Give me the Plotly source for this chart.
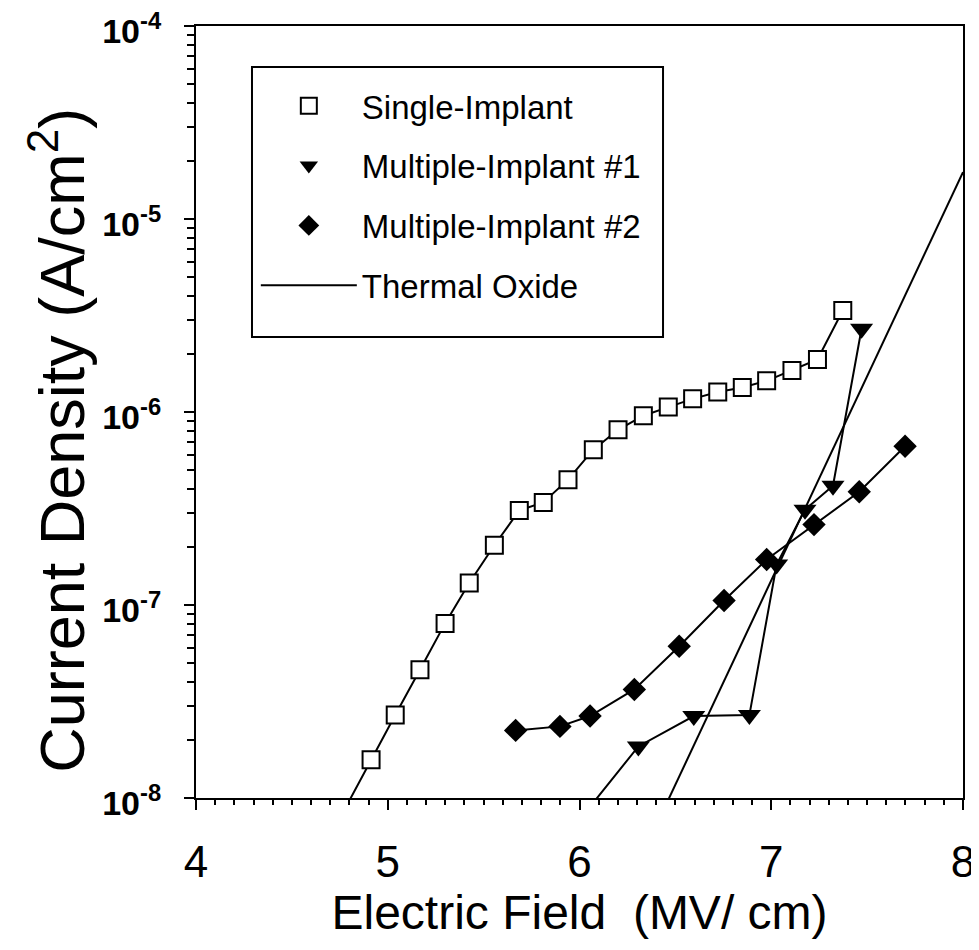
import plotly.graph_objects as go

# ---- data ----
single_x = [4.777, 4.913, 5.039, 5.168, 5.299, 5.425, 5.556, 5.686, 5.811, 5.940, 6.072,
            6.201, 6.333, 6.463, 6.590, 6.721, 6.849, 6.976, 7.108, 7.241, 7.373]
single_y = [8.8e-9, 1.58e-8, 2.69e-8, 4.62e-8, 8.03e-8, 1.30e-7, 2.04e-7, 3.09e-7, 3.40e-7,
            4.46e-7, 6.38e-7, 8.09e-7, 9.57e-7, 1.06e-6, 1.17e-6, 1.27e-6, 1.34e-6, 1.45e-6,
            1.64e-6, 1.87e-6, 3.36e-6]

mult1_x = [6.000, 6.307, 6.596, 6.886, 7.028, 7.176, 7.322, 7.471]
mult1_y = [7.7e-9, 1.85e-8, 2.66e-8, 2.69e-8, 1.62e-7, 3.12e-7, 4.15e-7, 2.70e-6]

mult2_x = [5.667, 5.898, 6.055, 6.286, 6.520, 6.754, 6.976, 7.223, 7.459, 7.698]
mult2_y = [2.24e-8, 2.35e-8, 2.66e-8, 3.65e-8, 6.11e-8, 1.055e-7, 1.72e-7, 2.61e-7,
           3.86e-7, 6.64e-7]

thermal_x = [6.40, 8.00]
thermal_y = [7.2e-9, 1.75e-5]

names = ["Single-Implant", "Multiple-Implant #1", "Multiple-Implant #2", "Thermal Oxide"]

y_tickvals = [1e-8, 1e-7, 1e-6, 1e-5, 1e-4]
y_ticktext = ["<b>10<sup>-8</sup></b>", "<b>10<sup>-7</sup></b>", "<b>10<sup>-6</sup></b>",
              "<b>10<sup>-5</sup></b>", "<b>10<sup>-4</sup></b>"]
y_minor = [k * d for d in [1e-8, 1e-7, 1e-6, 1e-5] for k in range(2, 10)]
x_tickvals = [4, 5, 6, 7, 8]

x_title = "Electric Field  (MV/ cm)"
y_title = "Current Density (A/cm<sup>2</sup>)"

FONT = "Liberation Sans, Arial, Helvetica, sans-serif"
LW = 2

fig = go.Figure()

# connecting lines (no legend)
for xs, ys, g in [(single_x, single_y, "a"), (mult1_x, mult1_y, "b"), (mult2_x, mult2_y, "c")]:
    fig.add_trace(go.Scatter(x=xs, y=ys, mode="lines", line=dict(color="black", width=LW),
                             showlegend=False, legendgroup=g, hoverinfo="skip"))

fig.add_trace(go.Scatter(x=single_x, y=single_y, mode="markers", name=names[0], legendgroup="a",
                         marker=dict(symbol="square", size=17, color="white",
                                     line=dict(color="black", width=2))))
fig.add_trace(go.Scatter(x=mult1_x, y=mult1_y, mode="markers", name=names[1], legendgroup="b",
                         marker=dict(symbol="triangle-down", size=20, color="black",
                                     line=dict(width=0))))
fig.add_trace(go.Scatter(x=mult2_x, y=mult2_y, mode="markers", name=names[2], legendgroup="c",
                         marker=dict(symbol="diamond", size=18, color="black",
                                     line=dict(width=0))))
fig.add_trace(go.Scatter(x=thermal_x, y=thermal_y, mode="lines", name=names[3], legendgroup="d",
                         line=dict(color="black", width=LW)))

fig.update_layout(
    width=971, height=942,
    margin=dict(l=188, r=16, t=18, b=152),
    paper_bgcolor="white", plot_bgcolor="white",
    font=dict(family=FONT, color="black"),
    showlegend=True,
    legend=dict(
        x=0.078, y=0.933, xanchor="left", yanchor="top",
        bgcolor="rgba(0,0,0,0)", borderwidth=0,
        font=dict(size=33, family=FONT, color="black"),
        traceorder="grouped", tracegroupgap=14, itemwidth=96,
    ),
    shapes=[dict(type="rect", xref="paper", yref="paper",
                 x0=0.0730, x1=0.6089, y0=0.5972, y1=0.9469,
                 line=dict(color="black", width=2), fillcolor="rgba(0,0,0,0)",
                 layer="below")],
    annotations=[dict(text=y_title, xref="paper", yref="paper", x=-0.1815, y=0.4637,
                      xanchor="center", yanchor="middle", textangle=-90, showarrow=False,
                      font=dict(size=63, family=FONT, color="black"))],
    xaxis=dict(
        range=[4, 8], tickmode="array", tickvals=x_tickvals, automargin=False,
        ticks="outside", ticklen=10, tickwidth=2, tickcolor="black",
        showline=True, linewidth=2, linecolor="black", mirror=True,
        showgrid=False, zeroline=False, ticklabeloverflow="allow",
        tickfont=dict(size=44, family=FONT), ticklabelstandoff=14,
        minor=dict(dtick=0.1, ticks="outside", ticklen=5, tickwidth=1.5, tickcolor="black",
                   showgrid=False),
        title=dict(text=x_title, font=dict(size=48, family=FONT), standoff=2),
    ),
    yaxis=dict(
        type="log", range=[-8, -4], tickmode="array", tickvals=y_tickvals, ticktext=y_ticktext,
        automargin=False, ticklabeloverflow="allow",
        ticks="outside", ticklen=10, tickwidth=2, tickcolor="black",
        showline=True, linewidth=2, linecolor="black", mirror=True,
        showgrid=False, zeroline=False,
        tickfont=dict(size=34, family=FONT),
        ticklabelstandoff=16, ticklabelshift=5,
        minor=dict(tickvals=y_minor, ticks="outside", ticklen=7, tickwidth=1.5,
                   tickcolor="black", showgrid=False),
    ),
)

fig.write_html("out.html")
